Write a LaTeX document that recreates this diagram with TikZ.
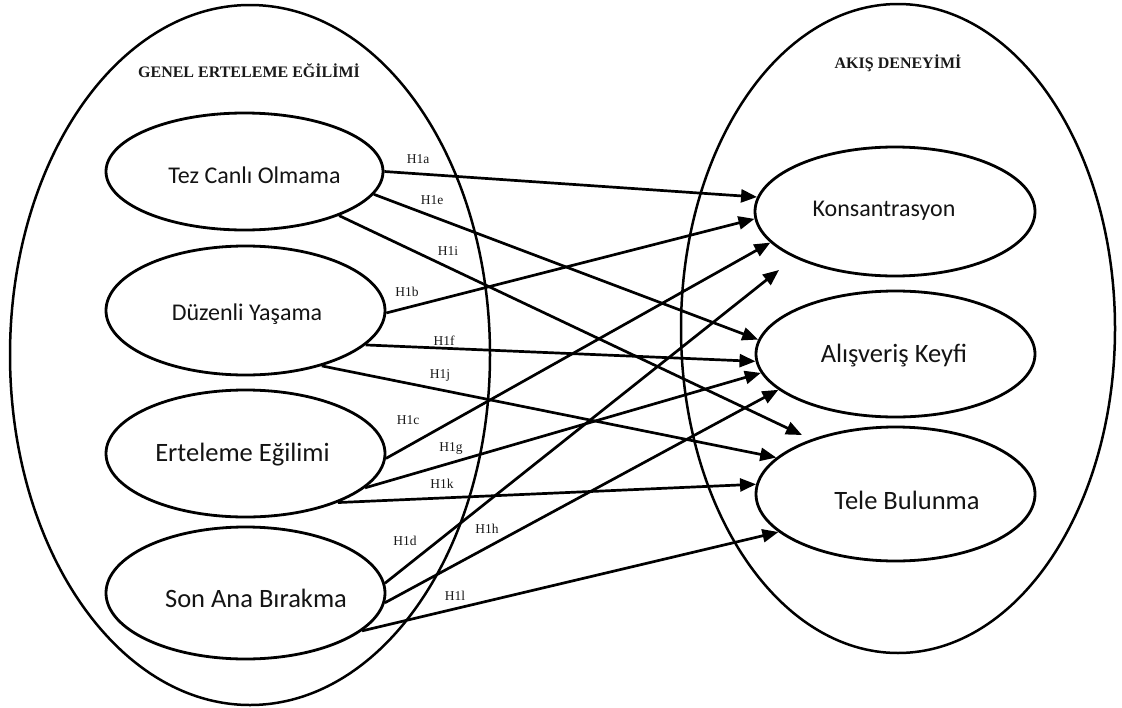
\documentclass[tikz,border=0pt]{standalone}
\usepackage{fontspec}
\setmainfont{Liberation Serif}
\newfontfamily\carlito{Carlito}
\usetikzlibrary{shapes.geometric,arrows.meta}
\begin{document}
\begin{tikzpicture}[x=1pt,y=-1pt,
  ell/.style={draw, ellipse, line width=2.8pt, inner sep=0pt},
  big/.style={draw, ellipse, line width=2.5pt, inner sep=0pt},
  ctxt/.style={font=\carlito\fontsize{24}{28}\selectfont, text=black!92, inner sep=0pt},
  ctxtL/.style={font=\carlito\fontsize{26.5}{30}\selectfont, text=black!92, inner sep=0pt},
  hdr/.style={font=\bfseries\fontsize{16}{19}\selectfont, text=black!90, inner sep=0pt},
  hl/.style={font=\fontsize{13.5}{16}\selectfont, text=black!90, inner sep=0pt},
  arr/.style={line width=2.7pt, -{Triangle[length=16pt,width=13pt]}}]
\fill[white] (0,0) rectangle (1122,707);
\useasboundingbox (0,0) rectangle (1122,707);

% group ellipses
\node[big, minimum width=480pt, minimum height=700pt] (genel) at (250,355) {};
\node[big, minimum width=434pt, minimum height=649pt] (akis) at (898,328.5) {};
\node[hdr] (hGenel) at (249,71) {GENEL ERTELEME EĞİLİMİ};
\node[hdr] (hAkis) at (898,63) {AKIŞ DENEYİMİ};

% left constructs
\node[ell, minimum width=277pt, minimum height=117pt] (tez) at (244.5,171.5) {};
\node[ell, minimum width=279pt, minimum height=129pt] (duz) at (245.5,310.5) {};
\node[ell, minimum width=279pt, minimum height=127pt] (ert) at (245.5,453.5) {};
\node[ell, minimum width=279pt, minimum height=132pt] (son) at (245.5,593) {};
\node[ctxt]  (tTez) at (254.5,175) {Tez Canlı Olmama};
\node[ctxt]  (tDuz) at (247,314) {Düzenli Yaşama};
\node[ctxtL] (tErt) at (242.5,455) {Erteleme Eğilimi};
\node[ctxtL] (tSon) at (256,598) {Son Ana Bırakma};

% right constructs
\node[ell, minimum width=280pt, minimum height=129pt] (kon) at (895,211.5) {};
\node[ell, minimum width=279pt, minimum height=126pt] (ali) at (895.5,354) {};
\node[ell, minimum width=279pt, minimum height=134pt] (tel) at (895.5,494) {};
\node[ctxt]  (tKon) at (884,211) {Konsantrasyon};
\node[ctxtL] (tAli) at (894,356) {Alışveriş Keyfi};
\node[ctxtL] (tTel) at (907,500) {Tele Bulunma};

% free arrow ends
\coordinate (endD) at (779,270);
\coordinate (endI) at (802,435);

% arrows
\draw[arr] (tez.0)     -- (kon.174.1);
\draw[arr] (tez.-10.8) -- (ali.174.3);
\draw[arr] (tez.-25.1) -- (endI);
\draw[arr] (duz.-1.8)  -- (kon.183.5);
\draw[arr] (duz.-16.4) -- (ali.183.3);
\draw[arr] (duz.-36.6) -- (tel.163.4);
\draw[arr] (ert.-2.3)  -- (kon.194.3);
\draw[arr] (ert.-16)   -- (ali.188.6);
\draw[arr] (ert.-28.4) -- (tel.176.7);
\draw[arr] (son.4.9)   -- (endD);
\draw[arr] (son.-4.1)  -- (ali.197.9);
\draw[arr] (son.-18.4) -- (tel.198.4);

% hypothesis labels
\node[hl] (la) at (418,159) {H1a};
\node[hl] (le) at (432,200) {H1e};
\node[hl] (li) at (448,251) {H1i};
\node[hl] (lb) at (407,292) {H1b};
\node[hl] (lf) at (444,341) {H1f};
\node[hl] (lj) at (440,375) {H1j};
\node[hl] (lc) at (408,420) {H1c};
\node[hl] (lg) at (451,448) {H1g};
\node[hl] (lk) at (442,484) {H1k};
\node[hl] (ld) at (405,541) {H1d};
\node[hl] (lh) at (487,529) {H1h};
\node[hl] (ll) at (455,596) {H1l};
\end{tikzpicture}
\end{document}
